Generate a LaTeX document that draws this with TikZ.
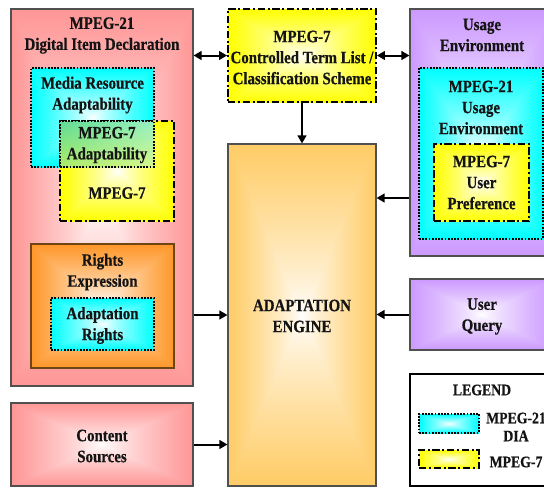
\documentclass[tikz,border=0pt]{standalone}
\usepackage{fontspec}
\setmainfont{Liberation Serif}[FakeStretch=0.86,BoldFeatures={FakeBold=0.5}]
\usetikzlibrary{arrows.meta,fit,shadings}

\definecolor{pinkc}{RGB}{255,150,150}
\definecolor{cyanc}{RGB}{0,255,255}
\definecolor{yellowc}{RGB}{255,255,0}
\definecolor{orangec}{RGB}{255,150,40}
\definecolor{enginec}{RGB}{255,204,102}
\definecolor{purplec}{RGB}{204,153,255}
\definecolor{edgegray}{RGB}{80,80,80}
\definecolor{rightsedge}{RGB}{110,70,20}
\definecolor{txt}{RGB}{20,20,20}
\definecolor{boxcol}{RGB}{255,255,255}
\definecolor{mixul}{RGB}{95,220,150}
\definecolor{mixur}{RGB}{150,240,195}
\definecolor{mixll}{RGB}{175,235,105}
\definecolor{mixlr}{RGB}{215,248,140}

% white centre fading to the box colour at the edges ("from centre" rectangle);
% the path covers the middle 50bp x 50bp of the shading
\pgfdeclarefunctionalshading[boxcol]{boxglow}{\pgfpoint{-50bp}{-50bp}}{\pgfpoint{50bp}{50bp}}{%
  \pgfshadecolortorgb{boxcol}{\bc}%
  \pgfmathsetmacro\glowR{1-\bcred}%
  \pgfmathsetmacro\glowG{1-\bcgreen}%
  \pgfmathsetmacro\glowB{1-\bcblue}%
}{%
  abs exch abs 2 copy lt {exch} if pop 25 div dup 1 gt {pop 1} if 0.8 exp
  dup \glowR\space mul 1 exch sub exch
  dup \glowG\space mul 1 exch sub exch
  \glowB\space mul 1 exch sub
}

\tikzset{
  glow/.style={shading=boxglow,/utils/exec={\colorlet{boxcol}{#1}}},
  solidbox/.style={draw=edgegray, line width=0.8pt, inner sep=0pt},
  dotline/.style={draw=black, line width=1.3pt, dash pattern=on 1.3pt off 1.1pt},
  diabox/.style={dotline, inner sep=0pt, glow=cyanc},
  mpgbox/.style={draw=black, line width=1.4pt, dash pattern=on 5.5pt off 2pt on 1.5pt off 2pt, inner sep=0pt, glow=yellowc},
  lbl/.style={font=\fontsize{13}{15.75}\selectfont\bfseries, text=txt, align=center, inner sep=0pt},
  small/.style={font=\fontsize{12}{13.5}\selectfont\bfseries, text=txt, align=center, inner sep=0pt},
  arr/.style={line width=1.5pt, -{Triangle[length=6pt,width=6.5pt]}},
  darr/.style={line width=1.5pt, {Triangle[length=6pt,width=6.5pt]}-{Triangle[length=6pt,width=6.5pt]}},
}

\begin{document}
\begin{tikzpicture}[x=0.75pt,y=-0.75pt]
\useasboundingbox (0,0) rectangle (544,487);
\fill[white] (0,0) rectangle (544,487);
\clip (0,0) rectangle (544,487);

% MPEG-21 Digital Item Declaration
\node[solidbox, glow=pinkc, fit={(11,9)(193,386)}] (did) {};
\node[lbl] (didt) at (102,35.5) {MPEG-21\\Digital Item Declaration};
\node[diabox, fit={(31,68)(154,167)}] (mra) {};
\node[lbl] (mrat) at (92.5,95) {Media Resource\\Adaptability};
\node[mpgbox, fit={(60,121)(174,221)}] (m7) {};
\node[lbl] (m7t) at (117,193) {MPEG-7};
\node[dotline, inner sep=0pt, upper left=mixul, upper right=mixur,
      lower left=mixll, lower right=mixlr, fit={(60,121)(154,167)}] (m7a) {};
\node[lbl] (m7at) at (107,145) {MPEG-7\\Adaptability};

% rights
\node[solidbox, draw=rightsedge, glow=orangec, fit={(31,244)(174,368)}] (rex) {};
\node[lbl] (rext) at (102.5,272) {Rights\\Expression};
\node[diabox, fit={(51,298)(154,350)}] (ar) {};
\node[lbl] (art) at (102.5,325.5) {Adaptation\\Rights};

% content sources
\node[solidbox, glow=pinkc, fit={(11,403)(193,486)}] (cs) {};
\node[lbl] (cst) at (102,446) {Content\\Sources};

% controlled term list
\node[mpgbox, fit={(228,9)(376,102)}] (ctl) {};
\node[lbl] (ctlt) at (302,57.5) {MPEG-7\\Controlled Term List /\\Classification Scheme};

% adaptation engine
\node[solidbox, glow=enginec, fit={(228,144)(376,486)}] (eng) {};
\node[lbl] (engt) at (302,316) {ADAPTATION\\ENGINE};

% usage environment
\node[solidbox, glow=purplec, fit={(410,9)(554,256)}] (ue) {};
\node[lbl] (uet) at (482,35) {Usage\\Environment};
\node[diabox, fit={(419,68)(543,239)}] (mue) {};
\node[lbl] (muet) at (481,107.5) {MPEG-21\\Usage\\Environment};
\node[mpgbox, fit={(434,144)(529,221)}] (up) {};
\node[lbl] (upt) at (481.5,182.5) {MPEG-7\\User\\Preference};

% user query
\node[solidbox, glow=purplec, fit={(410,279)(554,350)}] (uq) {};
\node[lbl] (uqt) at (482,316.5) {User\\Query};

% legend
\node[draw=black, line width=0.8pt, fill=white, inner sep=0pt, fit={(410,374)(554,486)}] (leg) {};
\node[small] (legt) at (482,390) {LEGEND};
\node[diabox, fit={(419,414)(479,433)}] (lgd) {};
\node[small] (lgdt) at (516,427) {MPEG-21\\DIA};
\node[mpgbox, fit={(419,450)(479,468)}] (lgm) {};
\node[small] (lgmt) at (516,462) {MPEG-7};

% connectors
\coordinate (uelev) at (0,198);
\draw[darr] (ctl.west) -- (ctl.west -| did.east);
\draw[darr] (ctl.east) -- (ctl.east -| ue.west);
\draw[arr] (ctl.south) -- (eng.north);
\draw[arr] (ue.west |- uelev) -- (eng.east |- uelev);
\draw[arr] (did.east |- eng.center) -- (eng.west);
\draw[arr] (uq.west) -- (uq.west -| eng.east);
\draw[arr] (cs.east) -- (cs.east -| eng.west);
\end{tikzpicture}
\end{document}
